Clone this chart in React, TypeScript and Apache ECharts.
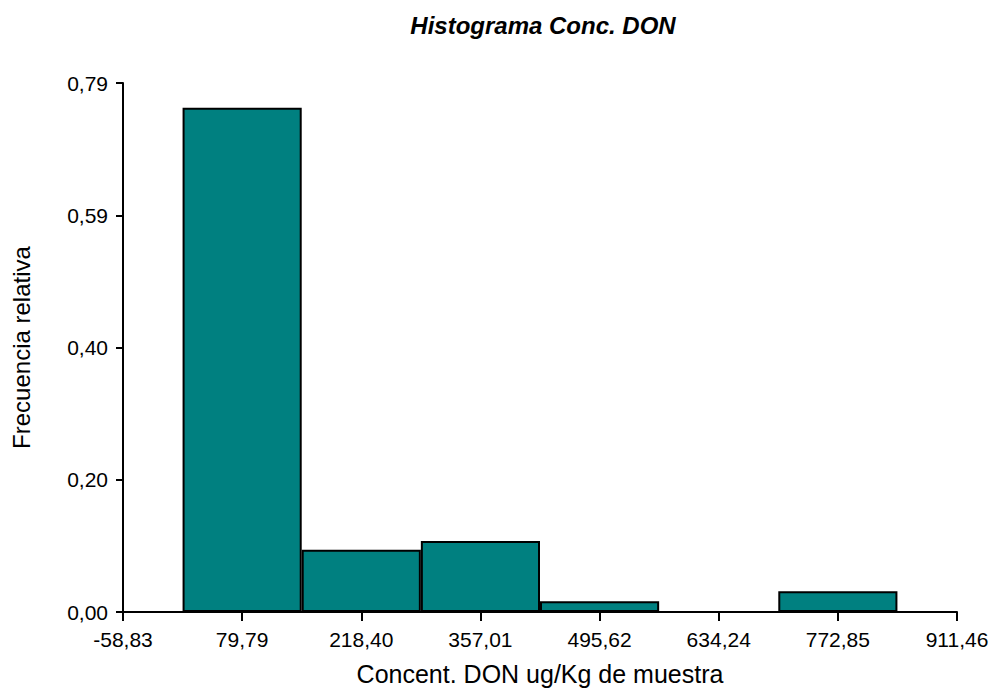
import React, { useEffect, useRef } from "react";
import * as echarts from "echarts";

const X_TICK_LABELS = ["-58,83", "79,79", "218,40", "357,01", "495,62", "634,24", "772,85", "911,46"];
// relative frequency of the bin centred on each tick ('-' = no bar)
const FREQ: (number | string)[] = ["-", 0.753, 0.093, 0.106, 0.016, "-", 0.031, "-"];
const Y_MAX = 0.79;
const Y_STEP = 0.1975;
const Y_TICK_LABELS = ["0,00", "0,20", "0,40", "0,59", "0,79"];

const TITLE = "Histograma Conc. DON";
const X_NAME = "Concent. DON ug/Kg de muestra";
const Y_NAME = "Frecuencia relativa";

const FONT = "'Liberation Sans', Arial, Helvetica, sans-serif";

export default function App() {
  const ref = useRef<HTMLDivElement>(null);
  useEffect(() => {
    if (!ref.current) return;
    const chart = echarts.init(ref.current, null, { renderer: "svg" });
    chart.setOption({
      animation: false,
      backgroundColor: "#ffffff",
      textStyle: { fontFamily: FONT, color: "#000" },
      title: {
        text: TITLE,
        left: 538,
        textAlign: "center",
        top: 8,
        textStyle: { fontFamily: FONT, fontSize: 24, fontWeight: "bold", fontStyle: "italic", color: "#000" },
      },
      grid: { left: 123, right: 38, top: 83, bottom: 76, containLabel: false, outerBoundsMode: "none" },
      xAxis: {
        type: "category",
        data: X_TICK_LABELS,
        boundaryGap: false,
        name: X_NAME,
        nameLocation: "middle",
        nameGap: 49,
        nameTextStyle: { fontFamily: FONT, fontSize: 25, color: "#000" },
        axisLine: { show: true, lineStyle: { color: "#000", width: 2 } },
        axisTick: { show: true, length: 9, alignWithLabel: true, lineStyle: { color: "#000", width: 2 } },
        axisLabel: { fontFamily: FONT, fontSize: 21, color: "#000", margin: 17, interval: 0 },
        splitLine: { show: false },
      },
      yAxis: {
        type: "value",
        min: 0,
        max: Y_MAX,
        interval: Y_STEP,
        name: Y_NAME,
        nameLocation: "middle",
        nameGap: 90,
        nameRotate: 90,
        nameTextStyle: { fontFamily: FONT, fontSize: 24, color: "#000" },
        axisLine: { show: true, lineStyle: { color: "#000", width: 2 } },
        axisTick: { show: true, length: 7, lineStyle: { color: "#000", width: 2 } },
        axisLabel: {
          fontFamily: FONT,
          fontSize: 21,
          color: "#000",
          margin: 15,
          formatter: (v: number) => Y_TICK_LABELS[Math.round(v / Y_STEP)] ?? "",
        },
        splitLine: { show: false },
      },
      series: [
        {
          type: "bar",
          data: FREQ,
          barCategoryGap: "0%",
          barGap: "0%",
          itemStyle: { color: "#008080", borderColor: "#000", borderWidth: 2 },
        },
      ],
    });
    return () => chart.dispose();
  }, []);
  return <div ref={ref} style={{ width: 995, height: 688, position: "absolute", left: 0, top: 0 }} />;
}
